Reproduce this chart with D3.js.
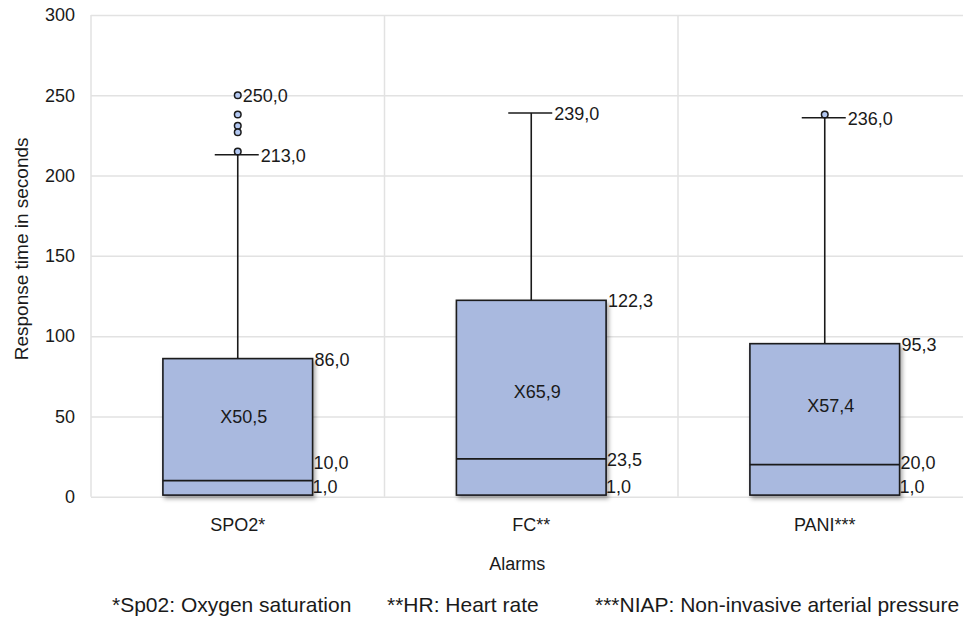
<!DOCTYPE html>
<html>
<head>
<meta charset="utf-8">
<script src="https://cdn.jsdelivr.net/npm/d3@7"></script>
<style>
    body { margin: 0; background: #fff; }
    svg { display: block; font-family: "Liberation Sans", Arial, sans-serif; }
    text { fill: #1a1a1a; }
</style>
</head>
<body>
<div id="chart"></div>
<script>
// データ
const categories = ["SPO2*", "FC**", "PANI***"];
const minValues = [1.0, 1.0, 1.0];
const medians = [10.0, 23.5, 20.0];
const q3Values = [86.0, 122.3, 95.3];
const whiskerMax = [213.0, 239.0, 236.0];
const means = [50.5, 65.9, 57.4];
const outliers = [
    [250, 238, 231, 227, 215],
    [],
    [238]
];
const yTicks = [0, 50, 100, 150, 200, 250, 300];
const footnotes = ["*Sp02: Oxygen saturation", "**HR: Heart rate", "***NIAP: Non-invasive arterial pressure"];

const fmt = v => v.toFixed(1).replace(".", ",");

const chartW = 963;
const chartH = 617;
const plotLeft = 91;
const band = 293.5;
const plotTop = 15;
const plotBottom = 496.7;

const svg = d3.select("#chart").append("svg")
    .attr("width", chartW)
    .attr("height", chartH);

// 影
const defs = svg.append("defs");
defs.append("filter")
    .attr("id", "shadow")
    .attr("x", "-10%").attr("y", "-10%")
    .attr("width", "130%").attr("height", "130%")
    .append("feDropShadow")
    .attr("dx", 2).attr("dy", 3)
    .attr("stdDeviation", 2)
    .attr("flood-color", "#000")
    .attr("flood-opacity", 0.35);

const x = d3.scaleBand()
    .domain(categories)
    .range([plotLeft, plotLeft + band * categories.length])
    .padding(0);

const y = d3.scaleLinear()
    .domain([0, 300])
    .range([plotBottom, plotTop]);

// グリッド
svg.append("g")
    .attr("transform", `translate(${plotLeft},0)`)
    .call(d3.axisLeft(y).tickValues(yTicks).tickSize(-(chartW - plotLeft)).tickFormat(""))
    .call(g => g.select(".domain").remove())
    .call(g => g.selectAll("line").attr("stroke", "#e2e2e2").attr("stroke-width", 1.5));

svg.append("g").selectAll("line")
    .data(categories)
    .join("line")
    .attr("x1", d => x(d)).attr("x2", d => x(d))
    .attr("y1", plotTop).attr("y2", plotBottom)
    .attr("stroke", "#e2e2e2")
    .attr("stroke-width", 1.5);

// Y軸
svg.append("g")
    .attr("transform", `translate(${plotLeft},0)`)
    .call(d3.axisLeft(y).tickValues(yTicks).tickSize(0).tickPadding(16))
    .call(g => g.select(".domain").remove())
    .call(g => g.selectAll("text").attr("font-size", 18).attr("font-family", null).attr("fill", "#1a1a1a"));

// X軸
svg.append("g")
    .attr("transform", `translate(0,${plotBottom})`)
    .call(d3.axisBottom(x).tickSize(0).tickPadding(22))
    .call(g => g.select(".domain").remove())
    .call(g => g.selectAll("text").attr("font-size", 18).attr("font-family", null).attr("fill", "#1a1a1a"));

// 軸タイトル
svg.append("text")
    .attr("transform", `translate(28,${(plotTop + plotBottom) / 2 - 7}) rotate(-90)`)
    .attr("text-anchor", "middle")
    .attr("font-size", 19)
    .text("Response time in seconds");

svg.append("text")
    .attr("x", plotLeft + band * 1.5 - 14)
    .attr("y", 570)
    .attr("text-anchor", "middle")
    .attr("font-size", 18)
    .text("Alarms");

// 箱ひげ
const boxW = x.bandwidth() * 0.51;
const capW = 44;

const boxes = categories.map((c, i) => ({
    cat: c,
    min: minValues[i],
    med: medians[i],
    q3: q3Values[i],
    max: whiskerMax[i],
    mean: means[i],
    out: outliers[i]
}));

const g = svg.append("g").selectAll("g")
    .data(boxes)
    .join("g")
    .attr("transform", d => `translate(${x(d.cat) + x.bandwidth() / 2},0)`);

// ひげ
g.append("line")
    .attr("x1", 0).attr("x2", 0)
    .attr("y1", d => y(d.q3)).attr("y2", d => y(d.max))
    .attr("stroke", "#1a1a1a").attr("stroke-width", 1.6);

g.append("line")
    .attr("x1", -capW / 2 - 1).attr("x2", capW / 2 - 1)
    .attr("y1", d => y(d.max)).attr("y2", d => y(d.max))
    .attr("stroke", "#1a1a1a").attr("stroke-width", 1.6);

g.append("rect")
    .attr("x", -boxW / 2)
    .attr("y", d => y(d.q3))
    .attr("width", boxW)
    .attr("height", d => y(d.min) - y(d.q3))
    .attr("fill", "#a9b9df")
    .attr("stroke", "#1a1a1a")
    .attr("stroke-width", 1.6)
    .attr("filter", "url(#shadow)");

g.append("line")
    .attr("x1", -boxW / 2).attr("x2", boxW / 2)
    .attr("y1", d => y(d.med)).attr("y2", d => y(d.med))
    .attr("stroke", "#1a1a1a").attr("stroke-width", 1.8);

// 外れ値
g.selectAll("circle")
    .data(d => d.out)
    .join("circle")
    .attr("cx", 0)
    .attr("cy", d => y(d))
    .attr("r", 3.3)
    .attr("fill", "#b3c8f2")
    .attr("stroke", "#1a1a1a")
    .attr("stroke-width", 1.5);

// ラベル
const fs = 18;
g.append("text")
    .attr("x", boxW / 2 + 2)
    .attr("y", d => y(d.q3) + 7)
    .attr("font-size", fs)
    .text(d => fmt(d.q3));

const lowY = d => y(d.min) - 2;
g.append("text")
    .attr("x", boxW / 2)
    .attr("y", lowY)
    .attr("font-size", fs)
    .text(d => fmt(d.min));

g.append("text")
    .attr("x", boxW / 2 + 1)
    .attr("y", d => Math.min(y(d.med) + 7, lowY(d) - 24))
    .attr("font-size", fs)
    .text(d => fmt(d.med));

g.append("text")
    .attr("x", capW / 2 + 1)
    .attr("y", d => y(d.max) + 7)
    .attr("font-size", fs)
    .text(d => fmt(d.max));

g.filter(d => d.cat === "SPO2*")
    .append("text")
    .attr("x", 5)
    .attr("y", d => y(d3.max(d.out)) + 7)
    .attr("font-size", fs)
    .text(d => fmt(d3.max(d.out)));

g.append("text")
    .attr("x", 6)
    .attr("y", d => y(d.mean) + 7)
    .attr("text-anchor", "middle")
    .attr("font-size", fs)
    .text(d => "X" + fmt(d.mean));

// 注釈
const footX = [112, 387, 595];
svg.append("g").selectAll("text")
    .data(footnotes)
    .join("text")
    .attr("x", (d, i) => footX[i])
    .attr("y", 612)
    .attr("font-size", 21)
    .text(d => d);
</script>
</body>
</html>
